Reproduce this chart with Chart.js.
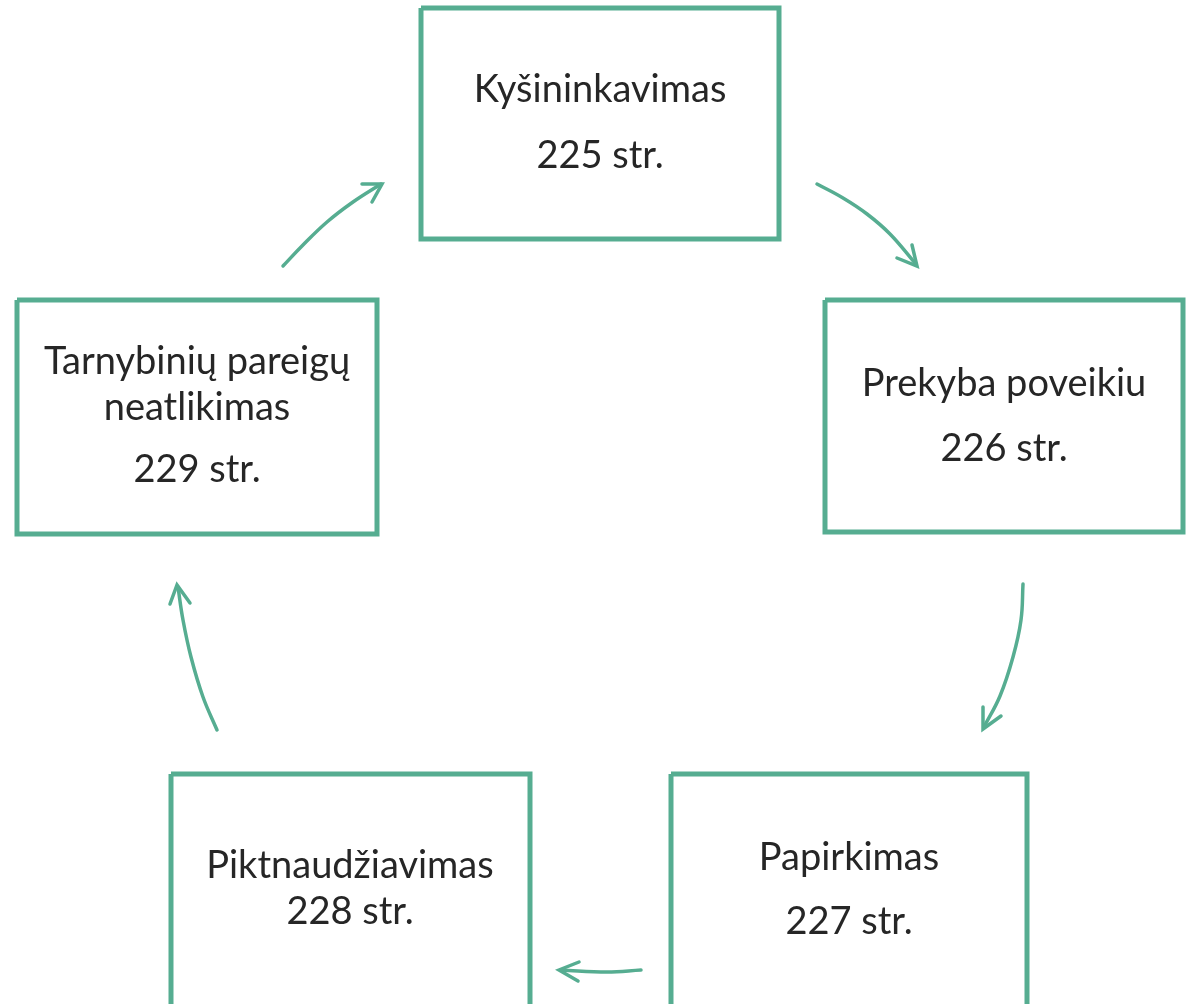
<!DOCTYPE html>
<html lang="lt">
<head>
  <meta charset="UTF-8" />
  <title>Korupcinių nusikaltimų ratas</title>
  <script src="https://cdn.jsdelivr.net/npm/chart.js"></script>
  <style>
    html, body { margin: 0; padding: 0; background: #fff; }
    #diagram { display: block; }
  </style>
</head>
<body>
  <canvas id="diagram" width="1201" height="1004"></canvas>

  <script>
    // boxes: topic, article, where the box sits
    const topics = ['Kyšininkavimas', 'Prekyba poveikiu', 'Papirkimas', 'Piktnaudžiavimas', 'Tarnybinių pareigų\nneatlikimas'];
    const articles = ['225 str.', '226 str.', '227 str.', '228 str.', '229 str.'];
    const boxLeft   = [421, 825, 671, 171, 17];
    const boxRight  = [779, 1183, 1027, 530, 377];
    const boxTop    = [8, 300, 774, 774, 300];
    const boxBottom = [239, 532, 1040, 1040, 534];
    // text line centres (first line, article line)
    const textX      = [600, 1004, 849, 350, 197];
    const topicY     = [90, 384, 858, 866, 362];
    const articleY   = [156, 449, 922, 912, 470];

    // curved arrows, traced from tail to tip
    const arrowCurves = [
      [[817, 184], [843, 198], [867, 214], [890, 234], [915, 263]],
      [[1023, 584], [1021, 620], [1013, 657], [1000, 696], [984, 727]],
      [[641, 970], [607, 972], [561, 970]],
      [[217, 730], [203, 697], [191, 657], [183, 620], [178, 587]],
      [[283, 266], [302, 246], [327, 222], [353, 202], [381, 184]]
    ];
    // arrow heads: arm, tip, arm
    const arrowHeads = [
      [[897, 258], [917, 266], [912, 245]],
      [[983, 707], [983, 729], [1001, 716]],
      [[579, 962], [559, 970], [578, 981]],
      [[170, 604], [177, 585], [190, 603]],
      [[362, 184], [382, 184], [372, 202]]
    ];

    const green = 'rgb(86, 173, 145)';
    const ink = '#262626';

    const toPts = arr => arr.map(p => ({ x: p[0], y: p[1] }));

    const datasets = [];
    topics.forEach((t, i) => {
      datasets.push({
        label: t,
        data: toPts([
          [boxLeft[i], boxTop[i]], [boxRight[i], boxTop[i]],
          [boxRight[i], boxBottom[i]], [boxLeft[i], boxBottom[i]],
          [boxLeft[i], boxTop[i]]
        ]),
        borderColor: green,
        borderWidth: 5,
        borderJoinStyle: 'miter',
        tension: 0
      });
    });
    arrowCurves.forEach(c => {
      datasets.push({
        data: toPts(c),
        borderColor: green,
        borderWidth: 3.5,
        borderCapStyle: 'round',
        tension: 0.4
      });
    });
    arrowHeads.forEach(h => {
      datasets.push({
        data: toPts(h),
        borderColor: green,
        borderWidth: 3.5,
        borderCapStyle: 'round',
        borderJoinStyle: 'miter',
        tension: 0
      });
    });

    // write the box texts at data coordinates
    const boxText = {
      id: 'boxText',
      afterDatasetsDraw(chart) {
        const { ctx, scales: { x, y } } = chart;
        ctx.save();
        ctx.fillStyle = ink;
        ctx.textAlign = 'center';
        ctx.textBaseline = 'middle';
        ctx.font = '38px Lato';
        topics.forEach((t, i) => {
          const lines = t.split('\n');
          const px = x.getPixelForValue(textX[i]);
          lines.forEach((ln, j) => {
            ctx.fillText(ln, px, y.getPixelForValue(topicY[i] + j * 46));
          });
          ctx.fillText(articles[i], px, y.getPixelForValue(articleY[i]));
        });
        ctx.restore();
      }
    };

    new Chart(document.getElementById('diagram'), {
      type: 'scatter',
      data: { datasets },
      options: {
        responsive: false,
        animation: false,
        showLine: true,
        layout: { padding: 0 },
        elements: { point: { radius: 0, hoverRadius: 0 } },
        plugins: { legend: { display: false }, tooltip: { enabled: false } },
        scales: {
          x: { type: 'linear', min: 0, max: 1201, display: false },
          y: { type: 'linear', min: 0, max: 1004, reverse: true, display: false }
        }
      },
      plugins: [boxText]
    });
  </script>
</body>
</html>
